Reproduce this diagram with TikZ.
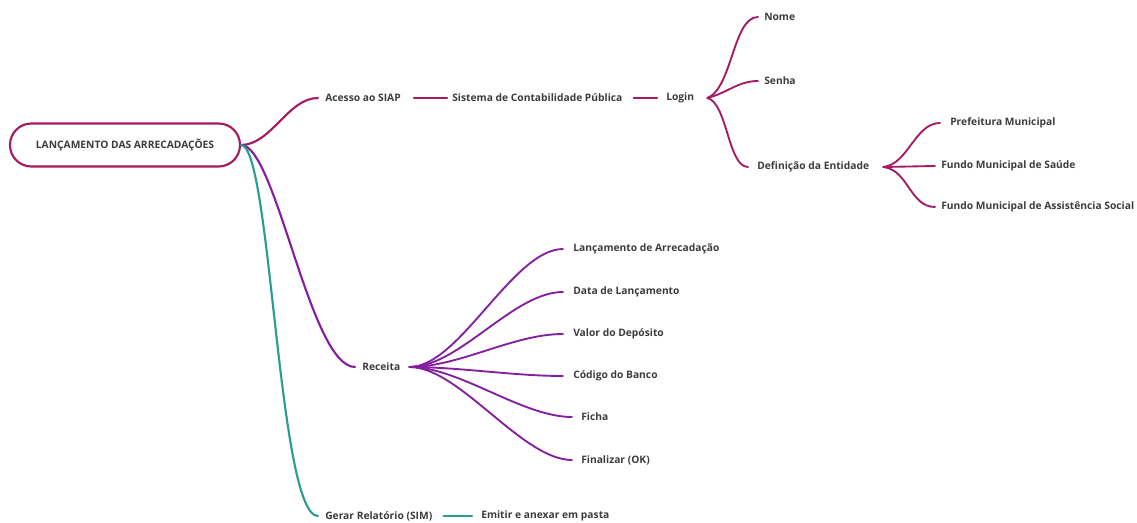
\documentclass[tikz,border=0pt]{standalone}
\usepackage{fontspec}
\setmainfont{Open Sans}
\usetikzlibrary{calc}
\definecolor{txt}{HTML}{3C3C3C}
\definecolor{pinkbr}{HTML}{A51A62}
\definecolor{purplebr}{HTML}{8420A0}
\definecolor{tealbr}{HTML}{2A9D8F}
\begin{document}
\begin{tikzpicture}[x=0.75pt,y=-0.75pt,
  lbl/.style={font=\bfseries\fontsize{7.7}{9}\selectfont, text=txt, inner sep=0pt, anchor=west},
  rootbox/.style={draw=pinkbr, line width=1.6pt, rounded corners=16pt, minimum width=172.5pt,
    minimum height=32.25pt, font=\bfseries\fontsize{7.7}{9}\selectfont, text=txt, fill=white},
  br/.style={line width=1.6pt, line cap=round},
  fan/.style={line width=1.4pt, line cap=round}]
\useasboundingbox (0,0) rectangle (1137,523);

% root
\node[rootbox] (root) at (125,145) {LANÇAMENTO DAS ARRECADAÇÕES};

% upper branch
\node[lbl] (acc)    at (325,98)  {Acesso ao SIAP};
\node[lbl] (sis)    at (452,98)  {Sistema de Contabilidade Pública};
\node[lbl] (login)  at (666,98)  {Login};
\node[lbl] (nome)   at (764,17)  {Nome};
\node[lbl] (senha)  at (764,81)  {Senha};
\node[lbl] (def)    at (757,167) {Definição da Entidade};
\node[lbl] (pref)   at (950,123) {Prefeitura Municipal};
\node[lbl] (saude)  at (941,166) {Fundo Municipal de Saúde};
\node[lbl] (assist) at (941,207) {Fundo Municipal de Assistência Social};

% middle branch
\node[lbl] (receita) at (362,367) {Receita};
\node[lbl] (lanc)    at (573,249) {Lançamento de Arrecadação};
\node[lbl] (data)    at (573,292) {Data de Lançamento};
\node[lbl] (valor)   at (573,334) {Valor do Depósito};
\node[lbl] (cod)     at (573,376) {Código do Banco};
\node[lbl] (ficha)   at (581,417) {Ficha};
\node[lbl] (final)   at (581,460) {Finalizar (OK)};

% lower branch
\node[lbl] (gerar)  at (325,516) {Gerar Relatório (SIM)};
\node[lbl] (emitir) at (481,516) {Emitir e anexar em pasta};

% junction points
\coordinate (jlogin) at ($(login.east)+(13,0)$);
\coordinate (jdef)   at ($(def.east)+(14,0)$);
\coordinate (jrec)   at ($(receita.east)+(9,0)$);
\coordinate (jrec2)  at ($(receita.east)+(24,0)$);

% connectors: upper branch
\draw[br, pinkbr] (root.east) .. controls +(30,0) and +(-30,0) .. ($(acc.west)+(-7,0)$);
\draw[br, pinkbr] ($(acc.east)+(13,0)$) -- ($(sis.west)+(-5,0)$);
\draw[br, pinkbr] ($(sis.east)+(11,0)$) -- ($(login.west)+(-9,0)$);
\draw[fan, pinkbr] (jlogin) .. controls +(25,-10) and +(-25,0) .. ($(nome.west)+(-6,0)$);
\draw[fan, pinkbr] (jlogin) .. controls +(20,-5) and +(-20,0) .. ($(senha.west)+(-6,0)$);
\draw[fan, pinkbr] (jlogin) .. controls +(20,5) and +(-20,0) .. ($(def.west)+(-9,0)$);
\draw[fan, pinkbr] (jdef) .. controls +(25,-3) and +(-25,0) .. ($(pref.west)+(-10,0)$);
\draw[fan, pinkbr] (jdef) -- ($(saude.west)+(-6,0)$);
\draw[fan, pinkbr] (jdef) .. controls +(25,3) and +(-25,0) .. ($(assist.west)+(-6,0)$);

% connectors: middle branch
\draw[br, purplebr] (root.east) .. controls +(35,0) and +(-45,0) .. ($(receita.west)+(-7,0)$);
\draw[br, purplebr] (jrec) -- (jrec2);
\foreach \t/\d in {lanc/10, data/10, valor/10, cod/10, ficha/9, final/9}
  \draw[fan, purplebr] (jrec) .. controls +(50,0) and +(-50,0) .. ($(\t.west)+(-\d,0)$);

% connectors: lower branch
\draw[br, tealbr] (root.east) .. controls +(30,0) and +(-40,0) .. ($(gerar.west)+(-7,0)$);
\draw[br, tealbr] ($(gerar.east)+(11,0)$) -- ($(emitir.west)+(-9,0)$);
\end{tikzpicture}
\end{document}
